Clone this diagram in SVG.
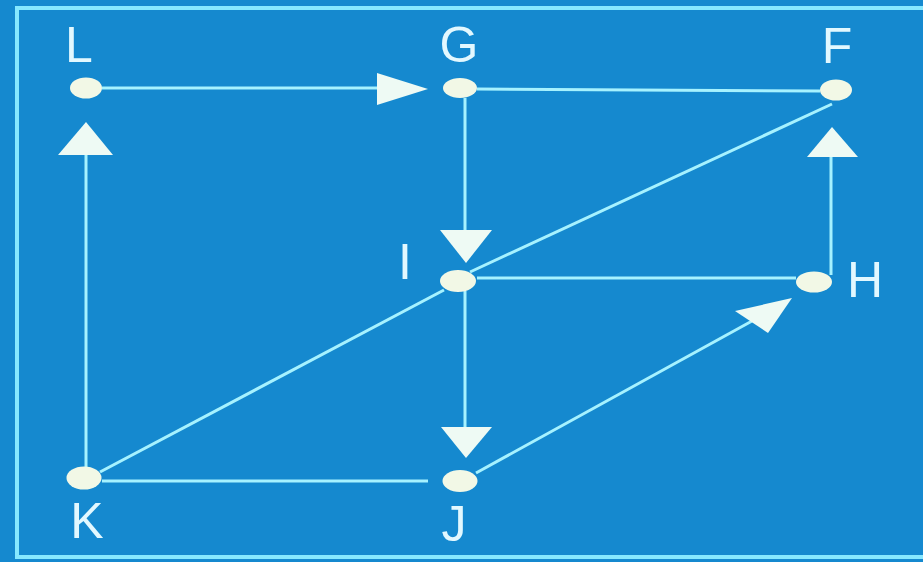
<svg xmlns="http://www.w3.org/2000/svg" width="923" height="562" viewBox="0 0 923 562">
<style>
.bg{fill:#1589cf}
.frame{stroke:#86e8ff;stroke-width:4;fill:none}
.edge{stroke:#a6f2ff;stroke-width:3;fill:none}
.head{fill:#eefaf4}
.node{fill:#f2f8e6}
.lbl{font-family:"Liberation Sans",Arial,sans-serif;font-size:50px;fill:#e2f8ff;text-anchor:middle}
</style>
<rect class="bg" x="0" y="0" width="923" height="562"/>
<path class="frame" d="M923 8 H17 V557 H923"/>
<g id="connectors">
  <line class="edge" x1="102" y1="88" x2="378" y2="88"/>
  <polygon class="head" points="377,73 428,89 377,105"/>
  <line class="edge" x1="477" y1="89" x2="820" y2="91"/>
  <line class="edge" x1="465" y1="98" x2="465" y2="231"/>
  <polygon class="head" points="440,230 492,230 466,263"/>
  <line class="edge" x1="470" y1="272" x2="832" y2="104"/>
  <line class="edge" x1="444" y1="290" x2="100" y2="472"/>
  <line class="edge" x1="477" y1="278" x2="796" y2="278"/>
  <line class="edge" x1="831" y1="275" x2="831" y2="156"/>
  <polygon class="head" points="807,157 858,157 832,127"/>
  <line class="edge" x1="465" y1="291" x2="465" y2="428"/>
  <polygon class="head" points="441,427 492,427 466,458"/>
  <line class="edge" x1="476" y1="473" x2="752" y2="321"/>
  <polygon class="head" points="792,298 735,311 768,333"/>
  <line class="edge" x1="86" y1="467" x2="86" y2="154"/>
  <polygon class="head" points="58,155 113,155 86,122"/>
  <line class="edge" x1="102" y1="481" x2="428" y2="481"/>
</g>
<g id="L"><ellipse class="node" cx="86" cy="88" rx="16" ry="10.5"/><text class="lbl" x="79" y="62">L</text></g>
<g id="G"><ellipse class="node" cx="460" cy="88" rx="17" ry="10"/><text class="lbl" x="459" y="62">G</text></g>
<g id="F"><ellipse class="node" cx="836" cy="90" rx="16" ry="10.5"/><text class="lbl" x="837" y="63">F</text></g>
<g id="I"><ellipse class="node" cx="458" cy="281" rx="18" ry="11"/><text class="lbl" x="405" y="279">I</text></g>
<g id="H"><ellipse class="node" cx="814" cy="282" rx="18" ry="10.5"/><text class="lbl" x="865" y="297">H</text></g>
<g id="K"><ellipse class="node" cx="84" cy="478" rx="17.5" ry="11.5"/><text class="lbl" x="87" y="538">K</text></g>
<g id="J"><ellipse class="node" cx="460" cy="481" rx="17.5" ry="11"/><text class="lbl" x="454" y="541">J</text></g>
</svg>
